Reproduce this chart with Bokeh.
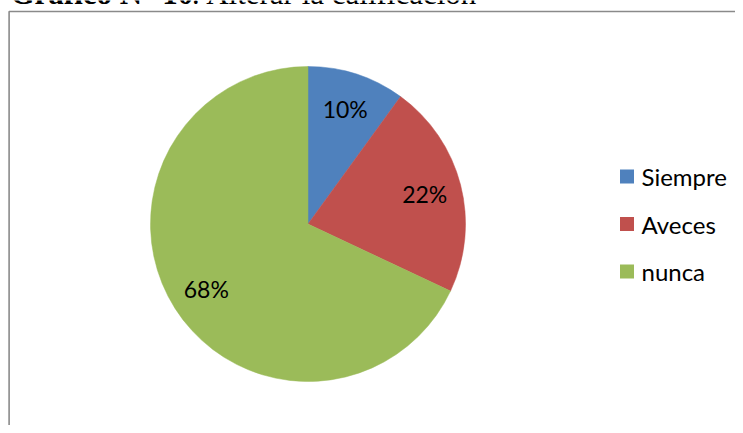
import math
from bokeh.plotting import figure
from bokeh.models import Range1d, ColumnDataSource
from bokeh.core.properties import value
from bokeh.embed import file_html
from bokeh.resources import INLINE

# ---- data ----
categories = ["Siempre", "Aveces", "nunca"]
percent = [10, 22, 68]
colors = ["#4F81BD", "#C0504D", "#9BBB59"]
title_bold = "Gráfico N° 10"
title_rest = ": Alterar la calificación"

W, H = 735, 425
p = figure(width=W, height=H, output_backend="svg", toolbar_location=None,
           x_range=Range1d(0, W), y_range=Range1d(0, H), min_border=0)
p.axis.visible = False
p.grid.visible = False
p.outline_line_color = None
p.background_fill_color = "white"
p.border_fill_color = "white"

# picture coords (top-left origin) -> data coords
def px(x):
    return x
def py(y):
    return H - y

# chart area border (left and top visible)
p.line([px(8.6), px(8.6), px(760)], [py(440), py(11), py(11)],
       line_color="#8a8a8a", line_width=1.6)

# title (cut off at the top as in the reference)
p.text([px(10)], [py(-7)], text=[title_bold], text_font=value("Liberation Serif"),
       text_font_size="31px", text_font_style="bold", text_baseline="alphabetic",
       text_color="black")
p.text([px(191)], [py(-7)], text=[title_rest], text_font=value("Liberation Serif"),
       text_font_size="31px", text_baseline="alphabetic", text_color="black")

# pie
cx, cy, R = px(307.5), py(223.5), 157.5
total = sum(percent)
starts, ends, lx, ly, labels = [], [], [], [], []
cum = 0.0
for v in percent:
    a0 = math.pi / 2 - 2 * math.pi * cum / total
    cum += v
    a1 = math.pi / 2 - 2 * math.pi * cum / total
    starts.append(a0)
    ends.append(a1)
    mid = (a0 + a1) / 2
    lx.append(cx + 0.765 * R * math.cos(mid))
    ly.append(cy + 0.765 * R * math.sin(mid))
    labels.append(f"{v}%")

src = ColumnDataSource(dict(start=starts, end=ends, color=colors,
                            lx=lx, ly=ly, label=labels))
p.wedge(x=cx, y=cy, radius=R, start_angle="start", end_angle="end",
        direction="clock", fill_color="color", line_color="color",
        line_width=0.5, source=src)
p.text(x="lx", y="ly", text="label", source=src, text_font=value("Lato"),
       text_font_size="23px", text_align="center", text_baseline="middle",
       text_color="black")

# legend
leg_x, leg_y0, leg_dy = px(626.5), py(176), 47.5
lsx = [leg_x] * len(categories)
lsy = [leg_y0 - i * leg_dy for i in range(len(categories))]
lsrc = ColumnDataSource(dict(x=lsx, y=lsy, tx=[x + 14.5 for x in lsx],
                             color=colors, name=categories))
p.rect(x="x", y="y", width=14, height=14, fill_color="color",
       line_color=None, source=lsrc)
p.text(x="tx", y="y", text="name", source=lsrc, text_font=value("Lato"),
       text_font_size="24px", text_align="left", text_baseline="middle",
       text_color="black")

open("out.html", "w").write(file_html(p, INLINE))
